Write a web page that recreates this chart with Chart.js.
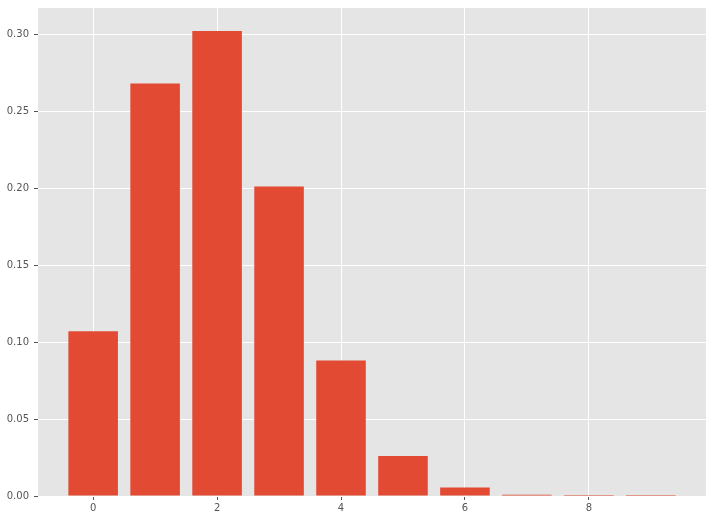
<!DOCTYPE html>
<html>
<head>
<meta charset="utf-8">
<script src="https://cdn.jsdelivr.net/npm/chart.js@4"></script>
<style>
  html, body { margin: 0; padding: 0; background: #fff; }
  canvas { display: block; }
</style>
</head>
<body>
<canvas id="chart" width="713" height="520"></canvas>
<script>
'use strict';

// ── Data ────────────────────────────────────────────────────────────────────
const xValues = [0, 1, 2, 3, 4, 5, 6, 7, 8, 9];
const probs   = [0.107, 0.268, 0.302, 0.201, 0.088, 0.026, 0.0055, 0.0008, 0.00007, 0.000004];
const xTicks  = [0, 2, 4, 6, 8];
const yTicks  = [0, 0.05, 0.10, 0.15, 0.20, 0.25, 0.30];

const BAR_COLOR = '#E24A33';
const TICK_COLOR = '#555555';

// grey panel behind the plot
const panelBg = {
  id: 'panelBg',
  beforeDraw(chart) {
    const { ctx, chartArea: a } = chart;
    ctx.save();
    ctx.fillStyle = '#E5E5E5';
    ctx.fillRect(a.left, a.top, a.right - a.left, a.bottom - a.top);
    ctx.restore();
  }
};

const tickFont = { family: "'DejaVu Sans', sans-serif", size: 10 };

new Chart(document.getElementById('chart'), {
  type: 'bar',
  data: {
    datasets: [{
      data: xValues.map((x, i) => ({ x, y: probs[i] })),
      backgroundColor: BAR_COLOR,
      borderWidth: 0,
      barPercentage: 0.8,
      categoryPercentage: 1.0
    }]
  },
  options: {
    responsive: false,
    animation: false,
    devicePixelRatio: 1,
    layout: { padding: { top: 8, right: 7, left: 0, bottom: 0 } },
    plugins: { legend: { display: false }, tooltip: { enabled: false } },
    scales: {
      x: {
        type: 'linear',
        offset: false,
        bounds: 'data',
        min: -0.89,
        max: 9.89,
        afterBuildTicks: s => { s.ticks = xTicks.map(v => ({ value: v })); },
        afterFit: s => { s.height = 24; s.paddingLeft = 0; s.paddingRight = 0; },
        border: { display: false },
        grid: { offset: false, color: '#FFFFFF', lineWidth: 1, tickColor: TICK_COLOR, tickLength: 4 },
        ticks: { color: TICK_COLOR, font: tickFont, padding: 2, maxRotation: 0,
                 callback: v => String(v) }
      },
      y: {
        type: 'linear',
        bounds: 'data',
        min: 0,
        max: 0.317,
        afterBuildTicks: s => { s.ticks = yTicks.map(v => ({ value: v })); },
        afterFit: s => { s.width = 38; s.paddingTop = 0; s.paddingBottom = 0; },
        border: { display: false },
        grid: { color: '#FFFFFF', lineWidth: 1, tickColor: TICK_COLOR, tickLength: 4 },
        ticks: { color: TICK_COLOR, font: tickFont, padding: 5,
                 callback: v => v.toFixed(2) }
      }
    }
  },
  plugins: [panelBg]
});
</script>
</body>
</html>
